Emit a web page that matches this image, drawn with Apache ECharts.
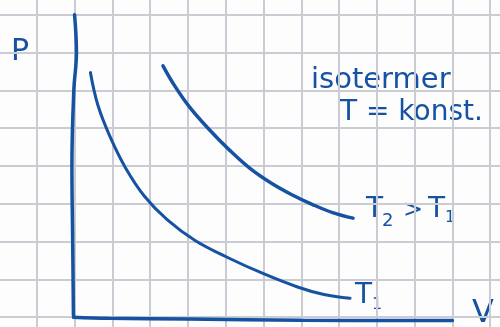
<!DOCTYPE html>
<html>
<head>
<meta charset="utf-8">
<script src="https://cdn.jsdelivr.net/npm/echarts@6/dist/echarts.min.js"></script>
<style>
  html, body { margin: 0; padding: 0; background: #fdfdfd; overflow: hidden; }
  /* rutpapperet fortsätter utanför bilden, så diven är större än fönstret */
  #chart { position: absolute; left: -1px; top: -23px; width: 529px; height: 378px; }
</style>
</head>
<body>
<div id="chart"></div>
<script>
  // enheter = rutor på papperet, V=0/P=0 i axlarnas hörn
  var vTicks = [-2, 12];
  var pTicks = [-1, 9];

  // handritade axlar
  var pAxisLine = [[0.0, 8.0], [0.05, 7.0], [-0.02, 6.0], [-0.07, 4.0], [-0.05, 2.0], [-0.03, 0.05]];
  var vAxisLine = [[-0.03, 0.0], [0.9, -0.03], [3.0, -0.05], [6.0, -0.08], [10.0, -0.09]];

  // isotermer
  var T1 = [[0.42, 6.47], [0.62, 5.6], [0.95, 4.75], [1.35, 3.95], [1.85, 3.2], [2.45, 2.58],
            [3.2, 2.02], [4.05, 1.58], [5.0, 1.15], [5.9, 0.8], [6.6, 0.6], [7.29, 0.5]];
  var T2 = [[2.34, 6.65], [2.65, 6.12], [3.05, 5.55], [3.55, 4.98], [4.1, 4.42], [4.65, 3.93],
            [5.2, 3.55], [5.75, 3.24], [6.3, 2.98], [6.85, 2.76], [7.37, 2.62]];

  var ink = '#1652a2';
  var font = 'DejaVu Sans';
  var ox = 1, oy = 23; // diven är förskjuten

  var myChart = echarts.init(document.getElementById('chart'));

  function inkLine(data, w) {
    return {
      type: 'line',
      data: data,
      smooth: 0.4,
      symbol: 'none',
      silent: true,
      lineStyle: { color: ink, width: w, cap: 'round' }
    };
  }

  function txt(x, y, s, size) {
    return {
      type: 'text', x: x + ox, y: y + oy,
      style: { text: s, fill: ink, font: size + 'px "' + font + '"' }
    };
  }

  myChart.setOption({
    animation: false,
    backgroundColor: '#fdfdfd',
    grid: { left: 0, right: 0, top: 0, bottom: 0 },
    xAxis: {
      type: 'value',
      min: vTicks[0], max: vTicks[1], interval: 1,
      axisLine: { show: false }, axisTick: { show: false }, axisLabel: { show: false },
      splitLine: { show: true, lineStyle: { color: '#cbccd3', width: 2 } }
    },
    yAxis: {
      type: 'value',
      min: pTicks[0], max: pTicks[1], interval: 1,
      axisLine: { show: false }, axisTick: { show: false }, axisLabel: { show: false },
      splitLine: { show: true, lineStyle: { color: '#cbccd3', width: 2 } }
    },
    series: [
      inkLine(pAxisLine, 3.5),
      inkLine(vAxisLine, 3.5),
      inkLine(T1, 3),
      inkLine(T2, 3.5)
    ],
    graphic: [
      txt(11, 37, 'P', 30),
      txt(311, 66, 'isotermer', 29),
      txt(340, 99, 'T = konst.', 28),
      txt(366, 196, 'T', 28),
      txt(382, 212, '2', 18),
      txt(403, 199, '>', 24),
      txt(428, 196, 'T', 28),
      txt(445, 210, '1', 16),
      txt(355, 282, 'T', 28),
      txt(372, 297, '1', 16),
      txt(472, 298, 'V', 32)
    ]
  });
</script>
</body>
</html>
